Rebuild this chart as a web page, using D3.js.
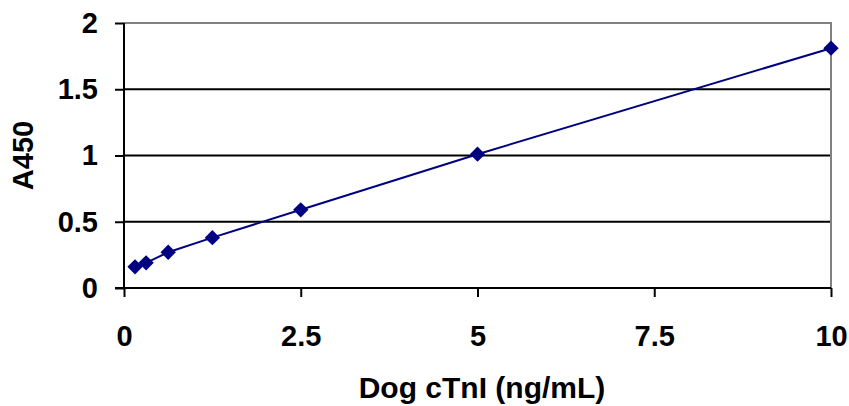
<!DOCTYPE html>
<html>
<head>
<meta charset="utf-8">
<script src="https://cdn.jsdelivr.net/npm/d3@7"></script>
<style>
  body { margin: 0; background: #fff; }
  text { font-family: "Liberation Sans", Arial, sans-serif; font-weight: bold; }
</style>
</head>
<body>
<script>
// concentration (ng/mL) and absorbance readings
const conc = [0.156, 0.3125, 0.625, 1.25, 2.5, 5, 10];
const a450 = [0.16, 0.19, 0.27, 0.38, 0.59, 1.01, 1.81];
const xTicks = [0, 2.5, 5, 7.5, 10];
const yTicks = [0, 0.5, 1, 1.5, 2];

const width = 849, height = 406;
const margin = {left: 124, right: 18, top: 23, bottom: 118};
const fontSize = 29;

const svg = d3.select("body").append("svg")
  .attr("width", width).attr("height", height);

const x = d3.scaleLinear().domain([0, 10]).range([margin.left, width - margin.right]);
const y = d3.scaleLinear().domain([0, 2]).range([height - margin.bottom, margin.top]);

// gridlines
svg.append("g").selectAll("line")
  .data(yTicks.filter(d => d > 0 && d < 2))
  .join("line")
  .attr("x1", x(0)).attr("x2", x(10))
  .attr("y1", d => y(d)).attr("y2", d => y(d))
  .attr("stroke", "#000").attr("stroke-width", 2);

// grey top/right border
svg.append("path")
  .attr("d", `M${x(0)},${y(2)}H${x(10)}V${y(0)}`)
  .attr("fill", "none").attr("stroke", "#808080").attr("stroke-width", 2);

const xAxis = svg.append("g")
  .attr("transform", `translate(0,${y(0)})`)
  .call(d3.axisBottom(x).tickValues(xTicks).tickFormat(d3.format("")).tickSize(9).tickPadding(28));
xAxis.select(".domain").attr("stroke-width", 2).attr("d", `M${x(0) - 9},0H${x(10)}`);
xAxis.selectAll(".tick line").attr("stroke-width", 2);
xAxis.selectAll("text").attr("font-size", fontSize).attr("fill", "#000");

const yAxis = svg.append("g")
  .attr("transform", `translate(${x(0)},0)`)
  .call(d3.axisLeft(y).tickValues(yTicks).tickFormat(d3.format("")).tickSize(9).tickPadding(17));
yAxis.select(".domain").attr("stroke-width", 2).attr("d", `M0,${y(2)}V${y(0)}`);
yAxis.selectAll(".tick line").attr("stroke-width", 2)
  .attr("stroke", "#000");
yAxis.selectAll("text").attr("font-size", fontSize).attr("fill", "#000");

// series line
const pts = conc.map((c, i) => [c, a450[i]]);
svg.append("path")
  .datum(pts)
  .attr("d", d3.line().x(d => x(d[0])).y(d => y(d[1])))
  .attr("fill", "none").attr("stroke", "#000080").attr("stroke-width", 2);

svg.append("g").selectAll("path")
  .data(pts)
  .join("path")
  .attr("transform", d => `translate(${x(d[0])},${y(d[1])})`)
  .attr("d", d3.symbol(d3.symbolDiamond2, 150))
  .attr("fill", "#000080");

// titles
svg.append("text")
  .attr("x", 482).attr("y", 398)
  .attr("text-anchor", "middle").attr("font-size", fontSize + 1)
  .text("Dog cTnI (ng/mL)");

svg.append("text")
  .attr("transform", `translate(33,${(y(0) + y(2)) / 2}) rotate(-90)`)
  .attr("text-anchor", "middle").attr("font-size", fontSize)
  .text("A450");
</script>
</body>
</html>
